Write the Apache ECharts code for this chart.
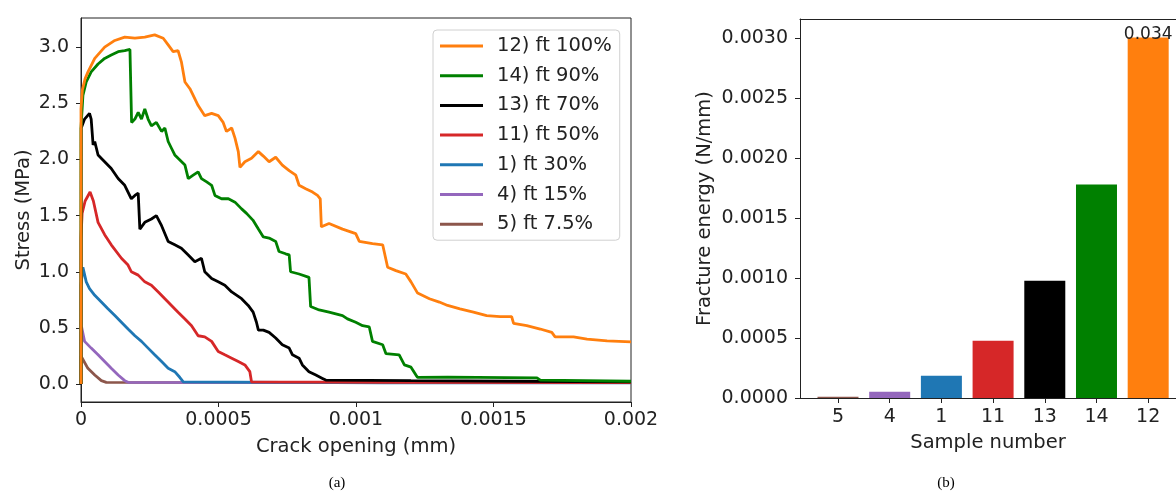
<!DOCTYPE html>
<html>
<head>
<meta charset="utf-8">
<script src="https://cdn.jsdelivr.net/npm/echarts@6/dist/echarts.min.js"></script>
<style>html,body{margin:0;padding:0;background:#fff;}#c{width:1176px;height:491px;}</style>
</head>
<body>
<div id="c"></div>
<script>
// ---------- Data: (a) stress vs crack opening ----------
const seriesNames = ['12) ft 100%', '14) ft 90%', '13) ft 70%', '11) ft 50%', '1) ft 30%', '4) ft 15%', '5) ft 7.5%'];
const seriesColors = ['#ff7f0e', '#008000', '#000000', '#d62728', '#1f77b4', '#9467bd', '#8c564b'];

const s12 = [[0,0],[0,2.45],[0.000005,2.62],[0.000015,2.72],[0.0000255,2.78],[0.00005,2.90],[0.000086,3.00],[0.000123,3.06],[0.000159,3.09],[0.000196,3.08],[0.000232,3.09],[0.000268,3.11],[0.000299,3.08],[0.000317,3.02],[0.000335,2.96],[0.000353,2.97],[0.000365,2.87],[0.000378,2.69],[0.000396,2.63],[0.000408,2.57],[0.000426,2.48],[0.00045,2.39],[0.000475,2.41],[0.000499,2.39],[0.000517,2.33],[0.000529,2.25],[0.000548,2.28],[0.00056,2.19],[0.000572,2.07],[0.000578,1.93],[0.000596,1.98],[0.00062,2.01],[0.000645,2.07],[0.000663,2.03],[0.000684,1.98],[0.000708,2.02],[0.000732,1.95],[0.000757,1.90],[0.000781,1.86],[0.000793,1.77],[0.000817,1.74],[0.000842,1.71],[0.00086,1.68],[0.00087,1.65],[0.000874,1.40],[0.000902,1.43],[0.000951,1.38],[0.000975,1.36],[0.000999,1.34],[0.001012,1.27],[0.00106,1.25],[0.001097,1.24],[0.001115,1.04],[0.001145,1.01],[0.001181,0.98],[0.0012,0.91],[0.001224,0.81],[0.001267,0.76],[0.001303,0.73],[0.001333,0.70],[0.001378,0.67],[0.001427,0.64],[0.001475,0.61],[0.001524,0.60],[0.001566,0.60],[0.001573,0.54],[0.001621,0.52],[0.00167,0.49],[0.001712,0.46],[0.001724,0.42],[0.001791,0.42],[0.00184,0.40],[0.001913,0.385],[0.002,0.375]];
const s14 = [[0,0],[0,2.28],[0.000007,2.57],[0.000019,2.69],[0.000037,2.78],[0.000062,2.85],[0.000086,2.90],[0.00011,2.93],[0.000135,2.96],[0.000159,2.97],[0.000178,2.98],[0.000183,2.97],[0.000184,2.33],[0.000196,2.36],[0.000208,2.42],[0.00022,2.36],[0.000232,2.45],[0.000244,2.36],[0.000256,2.30],[0.000274,2.33],[0.000293,2.25],[0.000305,2.28],[0.000317,2.16],[0.000329,2.10],[0.000341,2.04],[0.000353,2.01],[0.000378,1.95],[0.00039,1.83],[0.000408,1.86],[0.000426,1.89],[0.000438,1.83],[0.000457,1.80],[0.000475,1.77],[0.000487,1.68],[0.000511,1.65],[0.000536,1.65],[0.00056,1.62],[0.000584,1.56],[0.000602,1.52],[0.000625,1.46],[0.000645,1.38],[0.000663,1.31],[0.000684,1.30],[0.000708,1.27],[0.00072,1.18],[0.000744,1.16],[0.000757,1.15],[0.000762,1.00],[0.000793,0.98],[0.000829,0.95],[0.000835,0.69],[0.000866,0.66],[0.000902,0.64],[0.000951,0.61],[0.000969,0.58],[0.000999,0.55],[0.001024,0.52],[0.001048,0.51],[0.00106,0.38],[0.001097,0.35],[0.001109,0.27],[0.001157,0.26],[0.001176,0.17],[0.0012,0.15],[0.001218,0.08],[0.001224,0.06],[0.001333,0.062],[0.001658,0.055],[0.00167,0.034],[0.002,0.025]];
const s13 = [[0,0],[0.000001,2.28],[0.000013,2.36],[0.000031,2.41],[0.000037,2.36],[0.000044,2.13],[0.00005,2.16],[0.000056,2.10],[0.000062,2.04],[0.000086,1.98],[0.00011,1.92],[0.000135,1.83],[0.000159,1.77],[0.000171,1.71],[0.000183,1.65],[0.000196,1.68],[0.000208,1.70],[0.000214,1.38],[0.000232,1.44],[0.000256,1.47],[0.000274,1.50],[0.000293,1.41],[0.000317,1.27],[0.000341,1.24],[0.000365,1.21],[0.00039,1.15],[0.000414,1.09],[0.000438,1.12],[0.00045,1.00],[0.000475,0.94],[0.000499,0.91],[0.000523,0.88],[0.000548,0.82],[0.000584,0.76],[0.000608,0.70],[0.000626,0.64],[0.000638,0.55],[0.000645,0.48],[0.000663,0.48],[0.000684,0.46],[0.000708,0.41],[0.000732,0.35],[0.000757,0.32],[0.000769,0.26],[0.000793,0.23],[0.000805,0.17],[0.000829,0.11],[0.000854,0.08],[0.000878,0.05],[0.00089,0.035],[0.0012,0.03],[0.0016,0.025],[0.002,0.02]];
const s11 = [[0,0],[0,1.30],[0.000004,1.52],[0.000015,1.63],[0.000033,1.71],[0.000045,1.63],[0.000062,1.44],[0.000086,1.33],[0.00011,1.24],[0.000147,1.12],[0.000171,1.06],[0.000183,1.00],[0.000208,0.97],[0.000232,0.91],[0.000256,0.88],[0.000281,0.82],[0.000305,0.76],[0.000329,0.70],[0.000353,0.64],[0.000378,0.58],[0.000402,0.52],[0.000426,0.43],[0.00045,0.42],[0.000475,0.38],[0.000499,0.29],[0.000523,0.26],[0.000548,0.23],[0.000572,0.20],[0.000596,0.17],[0.000614,0.11],[0.00062,0.02],[0.0011,0.015],[0.002,0.012]];
const s1 = [[0,0],[0,0.88],[0.000007,1.04],[0.000019,0.91],[0.000031,0.85],[0.00005,0.79],[0.000074,0.73],[0.000098,0.67],[0.000123,0.61],[0.000147,0.55],[0.000171,0.49],[0.000196,0.43],[0.00022,0.38],[0.000244,0.32],[0.000268,0.26],[0.000293,0.20],[0.000317,0.14],[0.000341,0.11],[0.000359,0.06],[0.000372,0.02],[0.0011,0.01],[0.002,0.01]];
const s4 = [[0,0],[0,0.45],[0.000002,0.51],[0.000013,0.38],[0.000037,0.32],[0.000062,0.26],[0.000086,0.20],[0.00011,0.14],[0.000135,0.08],[0.000159,0.03],[0.000171,0.015],[0.002,0.012]];
const s5 = [[0,0],[0,0.25],[0.000002,0.26],[0.000025,0.14],[0.00005,0.08],[0.000074,0.03],[0.000092,0.015],[0.002,0.012]];
const curveData = [s12, s14, s13, s11, s1, s4, s5];

const stressTicks = [0, 0.5, 1.0, 1.5, 2.0, 2.5, 3.0];
const openingTicks = [0, 0.0005, 0.001, 0.0015, 0.002];

// ---------- Data: (b) fracture energy ----------
const samples = ['5', '4', '1', '11', '13', '14', '12'];
const energy = [0.00001, 0.0000525, 0.000186, 0.000478, 0.000978, 0.00178, 0.003006];
const barColors = ['#8c564b', '#9467bd', '#1f77b4', '#d62728', '#000000', '#008000', '#ff7f0e'];
const barLabels = ['', '', '', '', '', '', '0.034'];
const energyTicks = [0, 0.0005, 0.001, 0.0015, 0.002, 0.0025, 0.003];

const FONT = 'DejaVu Sans';
const FS = 19;
const FSN = 19.5;
const TXT = '#222';

const chart = echarts.init(document.getElementById('c'), null, {renderer: 'canvas'});

const lineSeries = curveData.map((d, i) => ({
  name: seriesNames[i],
  type: 'line',
  xAxisIndex: 0, yAxisIndex: 0,
  data: d,
  showSymbol: false,
  symbol: 'none',
  lineStyle: {color: seriesColors[i], width: 2.8},
  itemStyle: {color: seriesColors[i]},
  z: 10 - i,
  clip: true
}));

const sampleIdx = samples.map((s, i) => i);

const option = {
  animation: false,
  backgroundColor: '#fff',
  textStyle: {fontFamily: FONT},
  title: [
    {text: '(a)', left: 337, top: 476, textAlign: 'center', textStyle: {fontFamily: 'Liberation Serif', fontSize: 15, fontWeight: 'normal', color: '#000'}, padding: 0},
    {text: '(b)', left: 946, top: 476, textAlign: 'center', textStyle: {fontFamily: 'Liberation Serif', fontSize: 15, fontWeight: 'normal', color: '#000'}, padding: 0}
  ],
  legend: {
    data: seriesNames,
    orient: 'vertical',
    left: 433, top: 30,
    icon: 'rect',
    itemWidth: 43, itemHeight: 3,
    itemGap: 9.7,
    padding: [6, 8, 6, 7],
    backgroundColor: '#fff',
    borderColor: '#d0d0d0', borderWidth: 1, borderRadius: 4,
    textStyle: {fontFamily: FONT, fontSize: FSN, color: TXT, lineHeight: 18, padding: [0, 0, 0, 9]}
  },
  grid: [
    {left: 81, right: 545, top: 18, bottom: 89, show: true, borderColor: '#222', borderWidth: 1, backgroundColor: 'transparent'},
    {left: 800, right: 0, top: 19, bottom: 93, show: false}
  ],
  xAxis: [
    {
      gridIndex: 0, type: 'value', min: 0, max: 0.002,
      name: 'Crack opening (mm)', nameLocation: 'middle', nameGap: 35,
      nameTextStyle: {fontFamily: FONT, fontSize: FSN, color: TXT},
      axisLine: {show: true, onZero: false, lineStyle: {color: '#222'}},
      axisTick: {show: true, length: 5, customValues: openingTicks, lineStyle: {color: '#222'}},
      axisLabel: {customValues: openingTicks, margin: 9, fontFamily: FONT, fontSize: FS, color: TXT,
        formatter: v => String(+Number(v).toFixed(4))},
      splitLine: {show: false}
    },
    {
      gridIndex: 1, type: 'value', min: -0.735, max: 6.538,
      name: 'Sample number', nameLocation: 'middle', nameGap: 35,
      nameTextStyle: {fontFamily: FONT, fontSize: FSN, color: TXT},
      axisLine: {show: true, onZero: false, lineStyle: {color: '#222'}},
      axisTick: {show: true, length: 5, customValues: sampleIdx, lineStyle: {color: '#222'}},
      axisLabel: {customValues: sampleIdx, margin: 10, fontFamily: FONT, fontSize: FS, color: TXT,
        formatter: v => samples[Math.round(v)]},
      splitLine: {show: false}
    },
    {
      gridIndex: 1, type: 'value', min: -0.735, max: 6.538, position: 'top',
      axisLine: {show: true, onZero: false, lineStyle: {color: '#222'}},
      axisTick: {show: false}, axisLabel: {show: false}, splitLine: {show: false}
    }
  ],
  yAxis: [
    {
      gridIndex: 0, type: 'value', min: -0.16, max: 3.26,
      name: 'Stress (MPa)', nameLocation: 'middle', nameGap: 47, nameRotate: 90,
      nameTextStyle: {fontFamily: FONT, fontSize: FSN, color: TXT},
      axisLine: {show: true, onZero: false, lineStyle: {color: '#222'}},
      axisTick: {show: true, length: 5, customValues: stressTicks, lineStyle: {color: '#222'}},
      axisLabel: {customValues: stressTicks, margin: 12, fontFamily: FONT, fontSize: FS, color: TXT,
        formatter: v => Number(v).toFixed(1)},
      splitLine: {show: false}
    },
    {
      gridIndex: 1, type: 'value', min: 0, max: 0.00316,
      name: 'Fracture energy (N/mm)', nameLocation: 'middle', nameGap: 85, nameRotate: 90,
      nameTextStyle: {fontFamily: FONT, fontSize: FSN, color: TXT},
      axisLine: {show: true, onZero: false, lineStyle: {color: '#222'}},
      axisTick: {show: true, length: 5, customValues: energyTicks, lineStyle: {color: '#222'}},
      axisLabel: {customValues: energyTicks, margin: 12, fontFamily: FONT, fontSize: FS, color: TXT,
        formatter: v => Number(v).toFixed(4)},
      splitLine: {show: false}
    }
  ],
  series: lineSeries.concat([{
    type: 'bar',
    xAxisIndex: 1, yAxisIndex: 1,
    barWidth: 41,
    data: energy.map((v, i) => ({
      value: [i, v],
      itemStyle: {color: barColors[i]},
      label: {show: barLabels[i] !== '', formatter: barLabels[i]}
    })),
    label: {position: 'top', distance: -6, fontFamily: FONT, fontSize: 17, color: '#222'}
  }])
};
chart.setOption(option);
</script>
</body>
</html>
